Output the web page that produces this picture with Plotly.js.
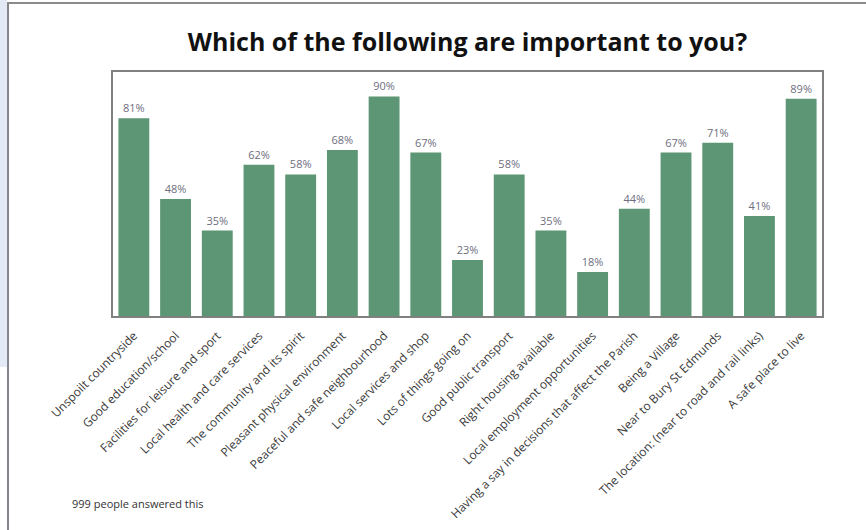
<!DOCTYPE html>
<html>
<head>
<meta charset="utf-8">
<script src="https://cdn.plot.ly/plotly-3.0.1.min.js"></script>
<style>
  html, body { margin: 0; padding: 0; background: #ffffff; }
  #wrap { position: relative; width: 866px; height: 530px; overflow: hidden; }
  #strip { position: absolute; left: 0; top: 0; width: 7px; height: 367px; background: #e3eaf6; }
  #vline { position: absolute; left: 7px; top: 2px; width: 2px; height: 528px; background: #85858d; }
  #hline { position: absolute; left: 7px; top: 2px; width: 859px; height: 2px; background: #8a8a8a; }
  #chart { position: absolute; left: 0; top: 0; width: 866px; height: 530px; }
</style>
</head>
<body>
<div id="wrap">
  <div id="strip"></div>
  <div id="vline"></div>
  <div id="hline"></div>
  <div id="chart"></div>
</div>
<script>
const categories = [
  "Unspoilt countryside",
  "Good education/school",
  "Facilities for leisure and sport",
  "Local health and care services",
  "The community and its spirit",
  "Pleasant physical environment",
  "Peaceful and safe neighbourhood",
  "Local services and shop",
  "Lots of things going on",
  "Good public transport",
  "Right housing available",
  "Local employment opportunities",
  "Having a say in decisions that affect the Parish",
  "Being a Village",
  "Near to Bury St Edmunds",
  "The location: (near to road and rail links)",
  "A safe place to live"
];
const percentages = [81, 48, 35, 62, 58, 68, 90, 67, 23, 58, 35, 18, 44, 67, 71, 41, 89];
const chartTitle = "Which of the following are important to you?";
const footNote = "999 people answered this";

const trace = {
  type: "bar",
  x: categories,
  y: percentages,
  marker: { color: "#5c9674", line: { width: 0 } },
  texttemplate: "%{y}%",
  textposition: "outside",
  cliponaxis: false,
  textfont: { family: "Open Sans, sans-serif", size: 11, color: "#6e6e80" },
  hoverinfo: "skip"
};

const layout = {
  width: 866,
  height: 530,
  margin: { l: 113, r: 44, t: 72, b: 214 },
  paper_bgcolor: "rgba(0,0,0,0)",
  plot_bgcolor: "rgba(0,0,0,0)",
  bargap: 0.26,
  showlegend: false,
  title: {
    text: "<b>" + chartTitle + "</b>",
    font: { family: "Open Sans, sans-serif", size: 25, color: "#111111" },
    x: 0.5, xref: "paper", xanchor: "center",
    y: 1 - 42 / 530, yref: "container", yanchor: "middle"
  },
  xaxis: {
    type: "category",
    tickangle: -45,
    tickfont: { family: "Open Sans, sans-serif", size: 12, color: "#3a3a3a" },
    showline: true, mirror: true, linecolor: "#808080", linewidth: 2,
    ticks: "outside", ticklen: 6, tickcolor: "rgba(0,0,0,0)",
    showgrid: false, zeroline: false, fixedrange: true
  },
  yaxis: {
    range: [0, 100],
    showticklabels: false, ticks: "", showgrid: false, zeroline: false,
    showline: true, mirror: true, linecolor: "#808080", linewidth: 2, fixedrange: true
  },
  annotations: [{
    text: footNote,
    xref: "paper", yref: "paper",
    x: (70 - 113) / 709, y: (316 - 503) / 244,
    xanchor: "left", yanchor: "middle",
    showarrow: false,
    font: { family: "Open Sans, sans-serif", size: 11, color: "#333333" }
  }]
};

Plotly.newPlot("chart", [trace], layout, { displayModeBar: false, staticPlot: true });
</script>
</body>
</html>
